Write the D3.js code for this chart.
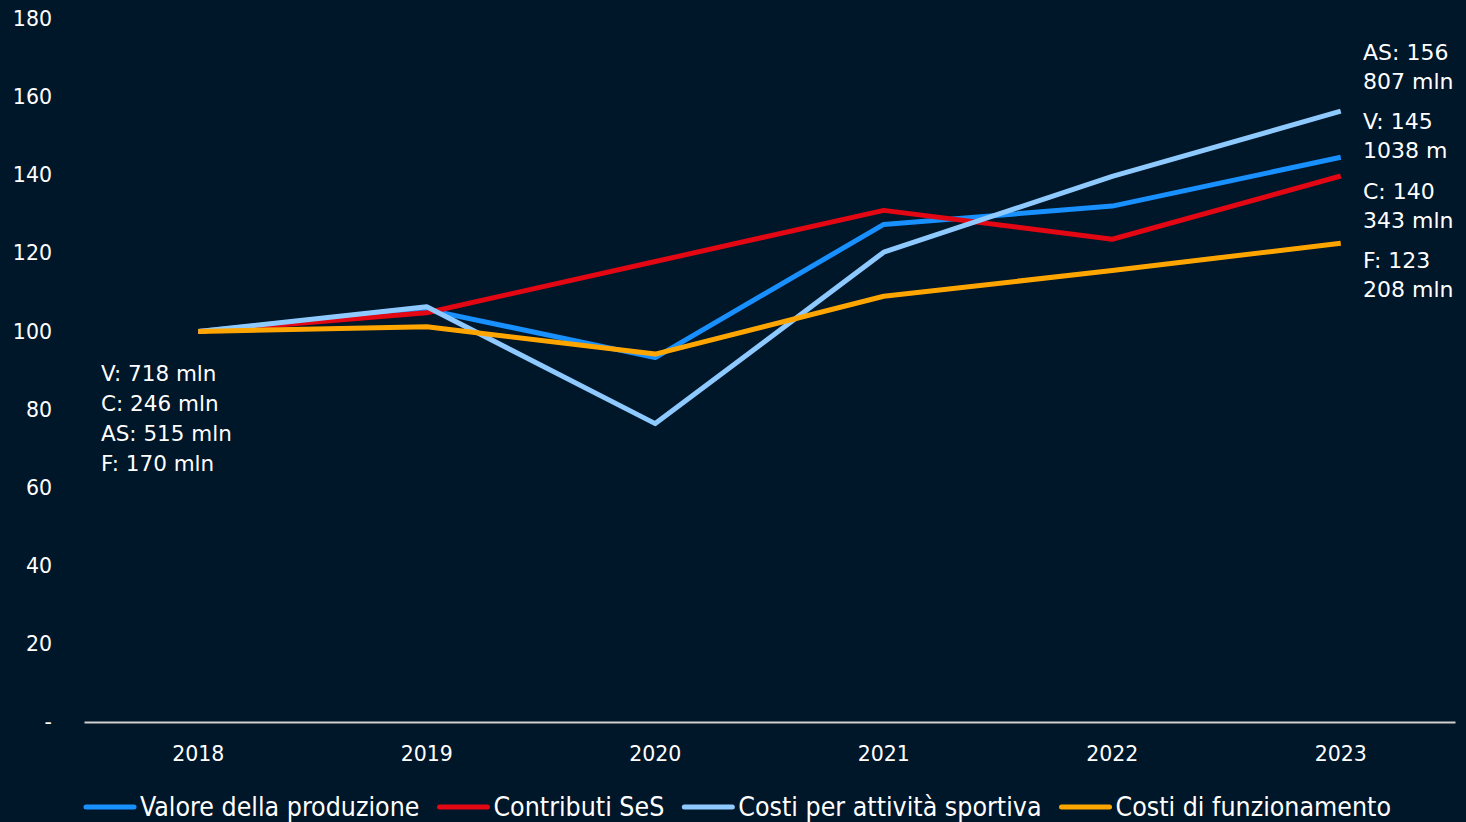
<!DOCTYPE html>
<html>
<head>
<meta charset="utf-8">
<script src="https://cdn.jsdelivr.net/npm/d3@7"></script>
<style>
  html, body { margin: 0; padding: 0; background: #001629; }
  svg { display: block; }
</style>
</head>
<body>
<div id="chart"></div>
<script>
// Data (index, 2018 = 100)
const years = ["2018", "2019", "2020", "2021", "2022", "2023"];
const valoreProduzione = [100, 105.6, 93.3, 127.4, 132.1, 144.6];
const contributiSeS = [100, 104.8, 117.9, 131.0, 123.6, 139.8];
const costiSportiva = [100, 106.3, 76.4, 120.3, 139.7, 156.4];
const costiFunzionamento = [100, 101.2, 94.2, 109.0, 115.6, 122.6];
const yTicks = [0, 20, 40, 60, 80, 100, 120, 140, 160, 180];
const startLabels = ["V: 718 mln", "C: 246 mln", "AS: 515 mln", "F: 170 mln"];
const endLabels = [["AS: 156", "807 mln"], ["V: 145", "1038 m"], ["C: 140", "343 mln"], ["F: 123", "208 mln"]];

const series = [
  { name: "Valore della produzione", values: valoreProduzione, color: "#1890ff" },
  { name: "Contributi SeS", values: contributiSeS, color: "#e30613" },
  { name: "Costi per attività sportiva", values: costiSportiva, color: "#8ecaff" },
  { name: "Costi di funzionamento", values: costiFunzionamento, color: "#ffa500" }
];

const width = 1466, height = 822;
const margin = { top: 20, right: 11, bottom: 100, left: 84 };
const font = "'DejaVu Sans', sans-serif";
const legendFont = "'Liberation Sans Narrow', 'DejaVu Sans Condensed', sans-serif";

const svg = d3.select("#chart").append("svg")
  .attr("width", width)
  .attr("height", height);

svg.append("rect").attr("width", width).attr("height", height).attr("fill", "#001629");

const x = d3.scaleBand()
  .domain(years)
  .range([margin.left, width - margin.right]);

const y = d3.scaleLinear()
  .domain([0, 180])
  .range([722, 19]);

// Y axis labels
const yAxis = svg.append("g")
  .attr("transform", `translate(${margin.left - 29},0)`)
  .call(d3.axisLeft(y).tickValues(yTicks).tickSize(0).tickFormat(d => d === 0 ? "-" : d));
yAxis.select(".domain").remove();
yAxis.selectAll("text")
  .attr("fill", "#ffffff")
  .style("font-family", font)
  .style("font-size", "20.5px");

// X axis
const xAxis = svg.append("g")
  .attr("transform", `translate(0,${y(0)})`)
  .call(d3.axisBottom(x).tickSize(0).tickPadding(24));
xAxis.select(".domain").attr("stroke", "#d0d0d0").attr("stroke-width", 2);
xAxis.selectAll("text")
  .attr("fill", "#ffffff")
  .style("font-family", font)
  .style("font-size", "20.5px");

// Lines
const line = d3.line()
  .x((d, i) => x(years[i]) + x.bandwidth() / 2)
  .y(d => y(d));

svg.selectAll(".series")
  .data(series)
  .enter()
  .append("path")
  .attr("class", "series")
  .attr("d", d => line(d.values))
  .attr("fill", "none")
  .attr("stroke", d => d.color)
  .attr("stroke-width", 5)
  .attr("stroke-linejoin", "round");

// Start annotation
svg.append("g")
  .selectAll("text")
  .data(startLabels)
  .enter()
  .append("text")
  .attr("x", 101)
  .attr("y", (d, i) => y(100) + 42 + i * 30)
  .attr("dy", "0.35em")
  .attr("fill", "#ffffff")
  .style("font-family", font)
  .style("font-size", "21.5px")
  .text(d => d);

// End annotations
const endG = svg.append("g");
endLabels.forEach((pair, i) => {
  pair.forEach((t, j) => {
    endG.append("text")
      .attr("x", 1363)
      .attr("y", y(168.2) - 13 + i * 69.5 + j * 29)
      .attr("dy", "0.35em")
      .attr("fill", "#ffffff")
      .style("font-family", font)
      .style("font-size", "22px")
      .text(t);
  });
});

// Legend
const legend = svg.append("g").attr("transform", "translate(84,807)");
let lx = 0;
series.forEach(s => {
  legend.append("line")
    .attr("x1", lx + 2).attr("x2", lx + 50)
    .attr("y1", 0).attr("y2", 0)
    .attr("stroke", s.color)
    .attr("stroke-width", 5)
    .attr("stroke-linecap", "round");
  const t = legend.append("text")
    .attr("x", lx + 56)
    .attr("y", 0)
    .attr("dy", "0.35em")
    .attr("fill", "#ffffff")
    .style("font-family", legendFont)
    .style("font-size", "26.5px")
    .text(s.name);
  lx += 56 + t.node().getComputedTextLength() + 18;
});
</script>
</body>
</html>
